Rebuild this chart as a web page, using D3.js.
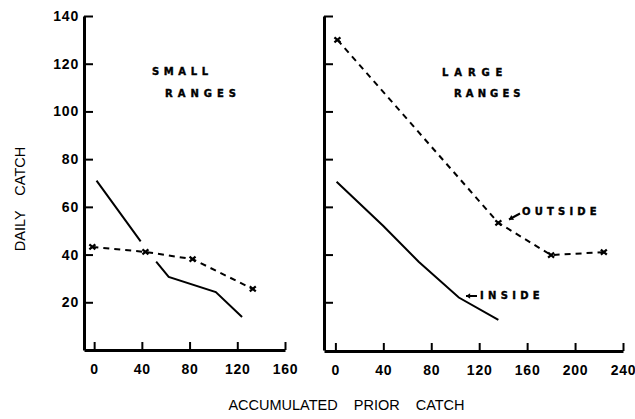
<!DOCTYPE html>
<html><head><meta charset="utf-8">
<script src="https://cdn.jsdelivr.net/npm/d3@7"></script>
<style>body{margin:0;background:#fff}</style>
</head><body><svg id="c" width="635" height="419"></svg>
<script>
// ---- data ----
const yTicks = [20, 40, 60, 80, 100, 120, 140];
const smallXTicks = [0, 40, 80, 120, 160];
const largeXTicks = [0, 40, 80, 120, 160, 200, 240];
// small ranges (left panel); null = gap where the line is broken
const smallInside = [[2, 71], [39, 45.5], null, [52, 37], [62.5, 30.6], [102, 24.3], [124, 13.8]];
const smallOutside = [[-1.5, 43.2], [43, 41.1], [82.5, 38.1], [133, 25.6]];
// large ranges (right panel)
const largeInside = [[1, 70.5], [40, 52], [69.5, 37], [103, 22], [136, 12.6]];
const largeOutside = [[1.7, 130], [136, 53.3], [180, 39.8], [224, 41]];

const svg = d3.select("#c");
const y = d3.scaleLinear().domain([0, 140]).range([350, 16]);
const xL = d3.scaleLinear().domain([-8.5, 160]).range([84, 285]);
const xR = d3.scaleLinear().domain([-9.5, 240]).range([324, 623]);

const tickFont = "'Liberation Sans', Arial, sans-serif";

function styleAxis(g) {
  g.attr("font-family", tickFont).attr("font-size", 14).attr("font-weight", "bold");
  g.select(".domain").attr("stroke", "#000").attr("stroke-width", 3);
  g.selectAll(".tick line").attr("stroke", "#000").attr("stroke-width", 2);
  g.selectAll(".tick text").attr("fill", "#000").attr("letter-spacing", 0.8);
}

// left panel axes
svg.append("g").attr("transform", "translate(84,0)")
  .call(d3.axisLeft(y).tickValues(yTicks).tickSize(-9).tickPadding(5).tickSizeOuter(0))
  .call(styleAxis);
svg.append("g").attr("transform", "translate(0,350)")
  .call(d3.axisBottom(xL).tickValues(smallXTicks).tickSize(-8).tickPadding(14).tickSizeOuter(0))
  .call(styleAxis);
// right panel axes
svg.append("g").attr("transform", "translate(324,0)")
  .call(d3.axisLeft(y).tickValues(yTicks).tickSize(-9).tickFormat("").tickSizeOuter(0))
  .call(styleAxis);
svg.append("g").attr("transform", "translate(0,351)")
  .call(d3.axisBottom(xR).tickValues(largeXTicks).tickSize(-8).tickPadding(14).tickSizeOuter(0))
  .call(styleAxis);

function drawSeries(data, x, dashed) {
  const line = d3.line().defined(d => d != null).x(d => x(d[0])).y(d => y(d[1]));
  svg.append("path").datum(data).attr("d", line)
    .attr("fill", "none").attr("stroke", "#000").attr("stroke-width", 2)
    .attr("stroke-dasharray", dashed ? "6,5" : null);
  if (dashed) {
    svg.selectAll(null).data(data.filter(d => d)).enter().append("path")
      .attr("transform", d => `translate(${x(d[0])},${y(d[1])})`)
      .attr("d", "M-3,-2.5L3,2.5M3,-2.5L-3,2.5")
      .attr("stroke", "#000").attr("stroke-width", 2.2);
  }
}
drawSeries(smallInside, xL, false);
drawSeries(smallOutside, xL, true);
drawSeries(largeInside, xR, false);
drawSeries(largeOutside, xR, true);

// panel labels
const lblFont = "'DejaVu Sans', sans-serif";
function label(t, px, py, ls) {
  svg.append("text").attr("x", px).attr("y", py).text(t)
    .attr("font-family", lblFont).attr("font-size", 10).attr("font-weight", "bold")
    .attr("letter-spacing", ls).attr("fill", "#000")
    .attr("stroke", "#000").attr("stroke-width", 0.4);
}
label("SMALL", 152, 75, 4.6);
label("RANGES", 165, 97, 5);
label("LARGE", 442, 76, 5.9);
label("RANGES", 454, 97, 4.1);
label("OUTSIDE", 522, 215, 4.2);
label("INSIDE", 480, 299, 4.3);

// arrows
function arrow(x1, y1, x2, y2) {
  const a = Math.atan2(y2 - y1, x2 - x1), h = 5;
  svg.append("line").attr("x1", x1).attr("y1", y1).attr("x2", x2).attr("y2", y2)
    .attr("stroke", "#000").attr("stroke-width", 2);
  const p1 = [x2 - h * Math.cos(a - 0.6), y2 - h * Math.sin(a - 0.6)];
  const p2 = [x2 - h * Math.cos(a + 0.6), y2 - h * Math.sin(a + 0.6)];
  svg.append("path").attr("d", `M${x2},${y2}L${p1}L${p2}Z`).attr("fill", "#000");
}
arrow(520, 213.5, 509, 219.5);
arrow(477, 296, 466, 296);

// axis titles
const titleFont = "'Liberation Sans', Arial, sans-serif";
svg.append("text").attr("transform", "translate(25,199) rotate(-90)")
  .attr("text-anchor", "middle").attr("font-family", titleFont).attr("font-size", 14.5)
  .attr("word-spacing", 11).attr("fill", "#000").text("DAILY CATCH");
svg.append("text").attr("x", 346.5).attr("y", 410)
  .attr("text-anchor", "middle").attr("font-family", titleFont).attr("font-size", 14.5)
  .attr("word-spacing", 12).attr("fill", "#000").text("ACCUMULATED PRIOR CATCH");
</script></body></html>
